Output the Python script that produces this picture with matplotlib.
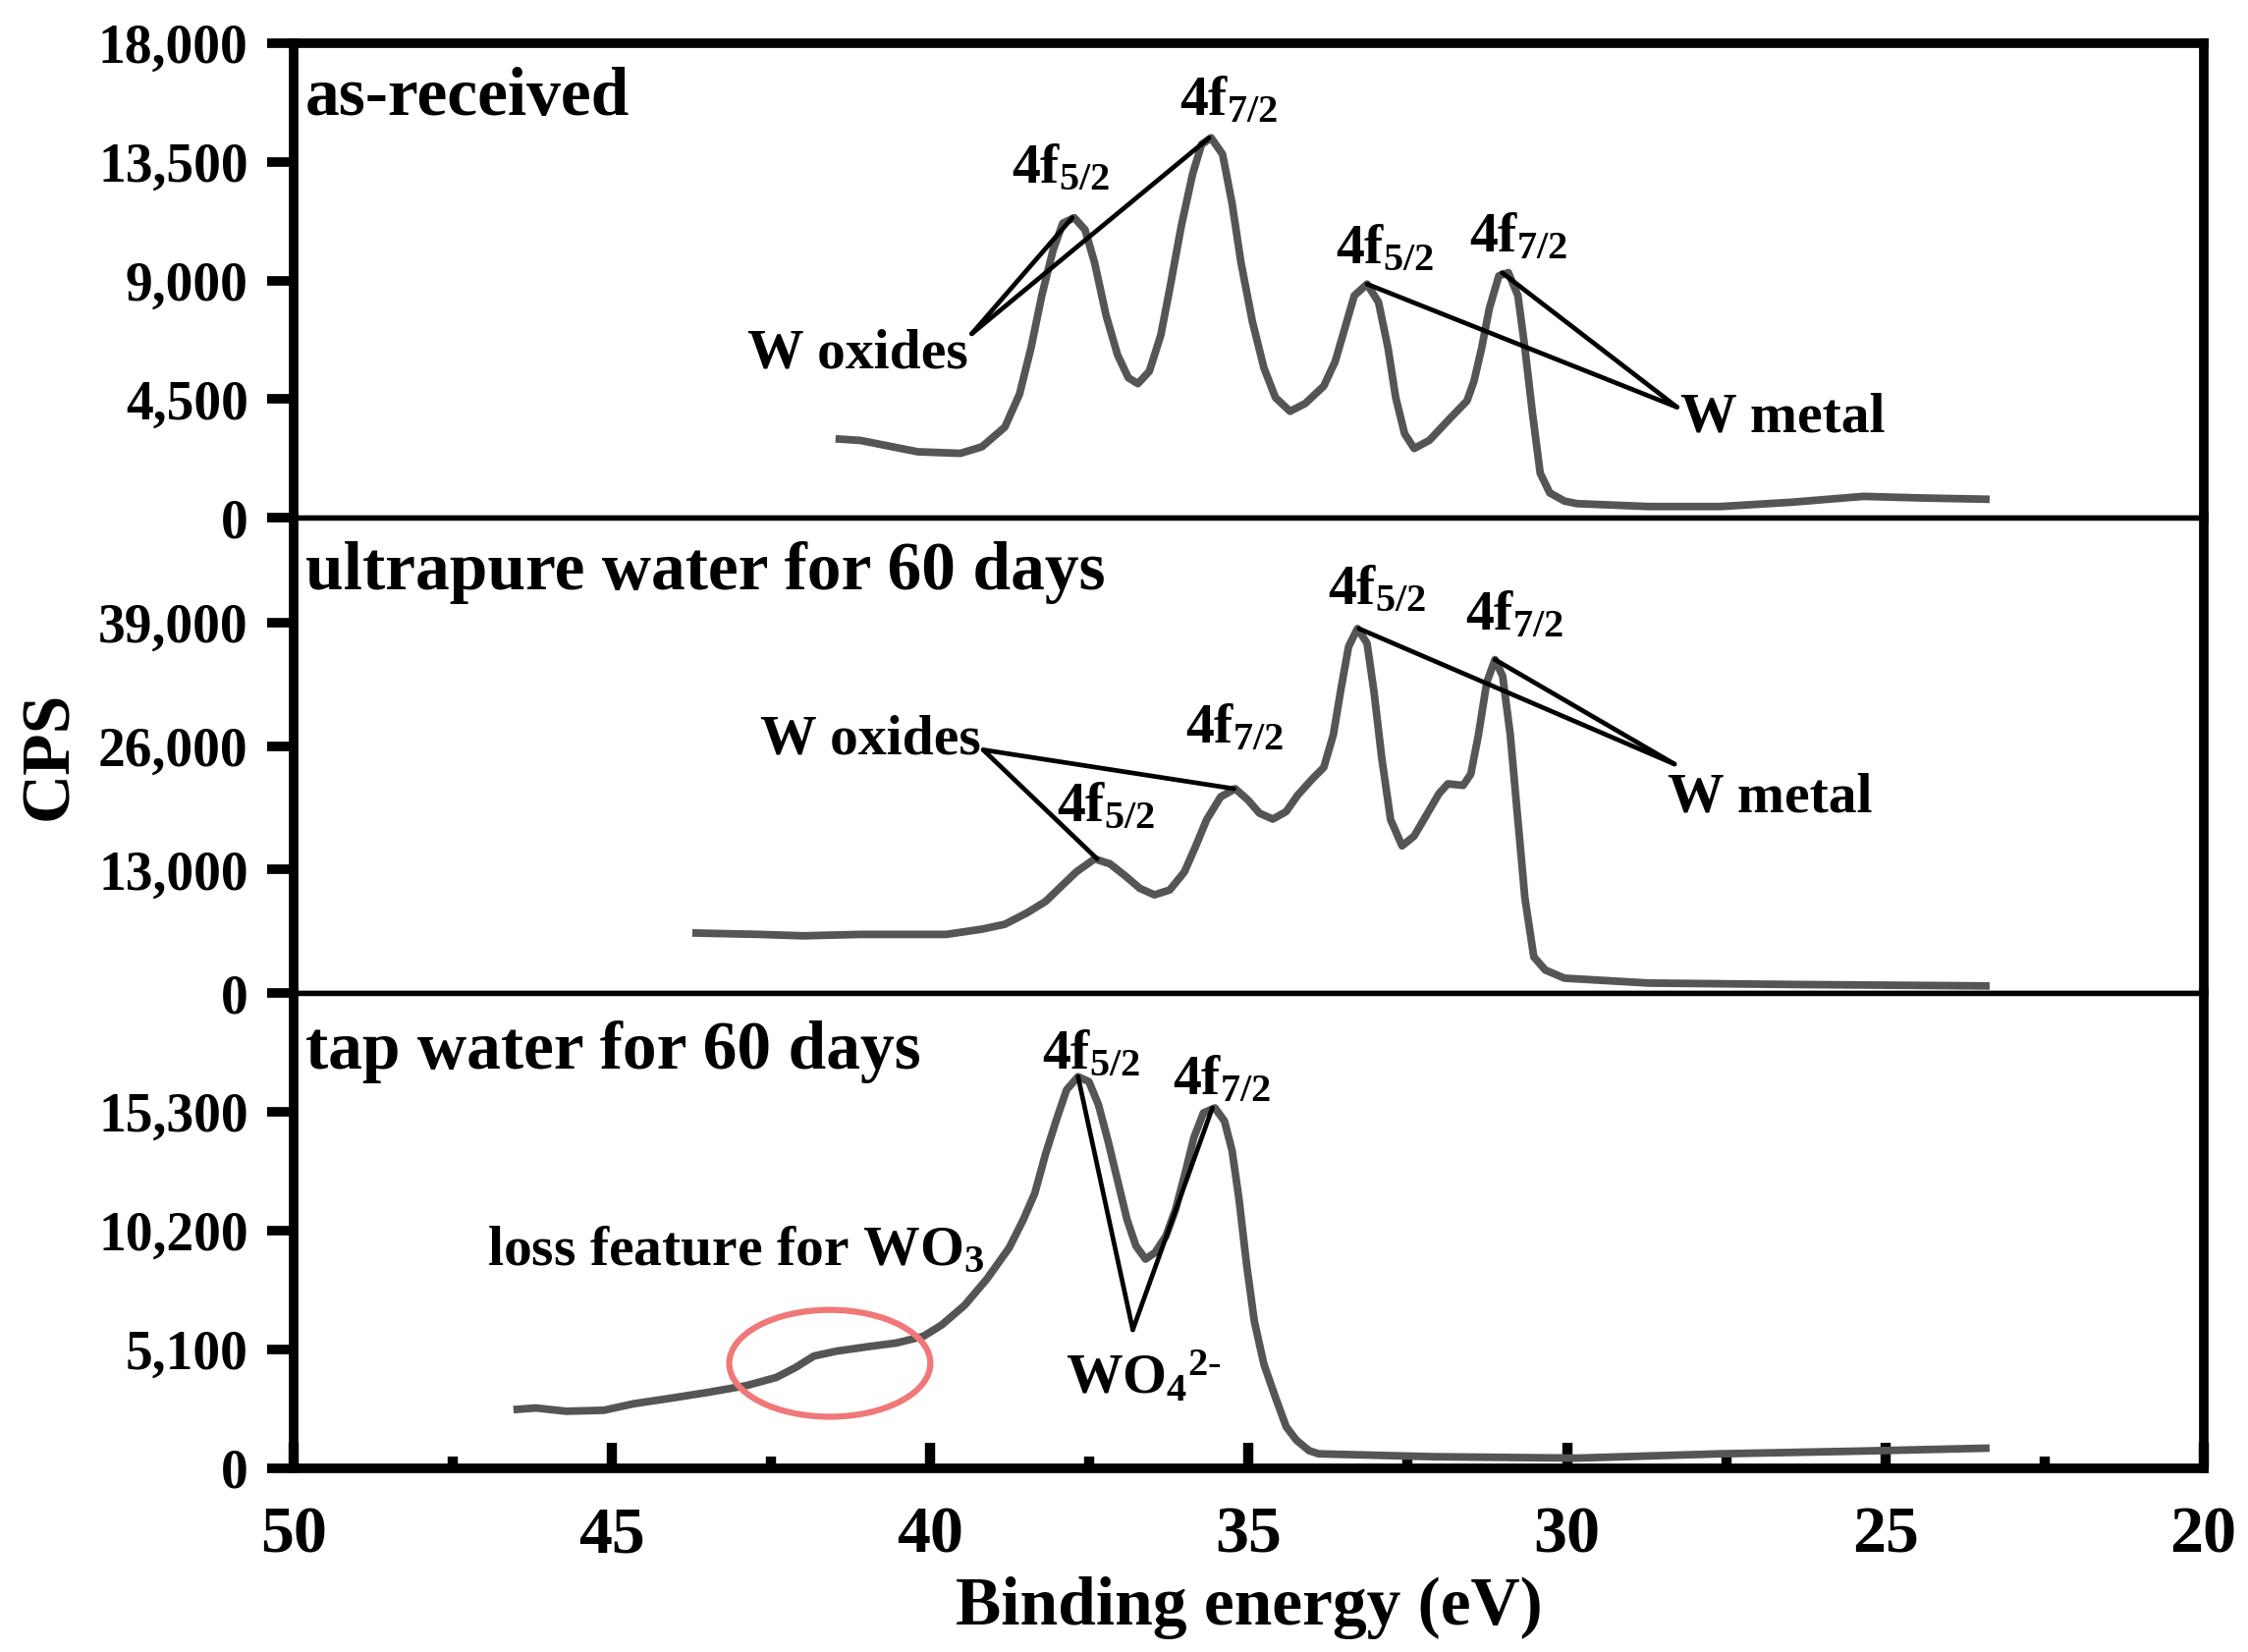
import matplotlib
matplotlib.use("Agg")
import matplotlib.pyplot as plt
from matplotlib.patches import Ellipse
from matplotlib.ticker import FuncFormatter, MultipleLocator, FixedLocator

plt.rcParams['font.family'] = ['Liberation Serif', 'DejaVu Serif']
plt.rcParams['font.weight'] = 'bold'
plt.rcParams['mathtext.fontset'] = 'custom'
plt.rcParams['mathtext.rm'] = 'Liberation Serif:bold'
plt.rcParams['mathtext.it'] = 'Liberation Serif:bold'
plt.rcParams['mathtext.bf'] = 'Liberation Serif:bold'
plt.rcParams['mathtext.default'] = 'regular'

# ---------------- data ----------------
panel_titles = ["as-received", "ultrapure water for 60 days", "tap water for 60 days"]

be_asrec = [41.49, 41.10, 40.65, 40.20, 39.53, 39.19, 38.83, 38.60, 38.42, 38.25, 38.07, 37.92,
            37.74, 37.57, 37.42, 37.24, 37.06, 36.89, 36.74, 36.56, 36.38, 36.24, 36.06, 35.88,
            35.74, 35.59, 35.41, 35.26, 35.12, 34.94, 34.76, 34.58, 34.35, 34.11, 33.82, 33.64,
            33.49, 33.34, 33.14, 32.96, 32.81, 32.69, 32.55, 32.40, 32.16, 31.87, 31.57, 31.46,
            31.34, 31.22, 31.07, 30.92, 30.77, 30.66, 30.54, 30.42, 30.27, 30.04, 29.84, 28.72,
            27.59, 26.46, 25.34, 24.44, 23.36]
cps_asrec = [3000, 2940, 2725, 2510, 2450, 2698, 3445, 4690, 6435, 8427, 10172, 11167,
             11380, 10920, 9672, 7680, 6185, 5314, 5090, 5561, 6932, 8677, 11043, 13035,
             14156, 14406, 13782, 11913, 9672, 7429, 5688, 4567, 4043, 4342, 5000, 5934,
             7182, 8427, 8864, 8176, 6435, 4567, 3195, 2635, 2945, 3692, 4440, 5187,
             6435, 7930, 9174, 9298, 8427, 6435, 3942, 1700, 953, 643, 545, 435,
             435, 600, 820, 760, 710]

be_ultra = [43.74, 42.68, 42.00, 41.10, 39.75, 39.19, 38.83, 38.48, 38.19, 37.95, 37.71, 37.42,
            37.18, 36.95, 36.71, 36.48, 36.24, 36.01, 35.83, 35.66, 35.44, 35.21, 35.01, 34.83,
            34.62, 34.41, 34.23, 34.00, 33.82, 33.67, 33.55, 33.43, 33.29, 33.14, 33.03, 32.91,
            32.77, 32.59, 32.40, 32.19, 32.01, 31.87, 31.63, 31.51, 31.39, 31.26, 31.13, 31.01,
            30.89, 30.78, 30.66, 30.52, 30.34, 30.04, 28.72, 26.46, 23.36]
cps_ultra = [6325, 6175, 6025, 6175, 6175, 6726, 7242, 8449, 9646, 11193, 12741, 14123,
             13607, 12400, 11028, 10337, 10853, 12741, 15495, 18249, 20653, 21509, 20312, 18930,
             18311, 19105, 20828, 22540, 23747, 27183, 32000, 36467, 38365, 36818, 31660, 24780,
             18249, 15495, 16527, 18930, 20993, 22025, 21860, 23056, 27183, 32690, 35095, 33372,
             27183, 18930, 9996, 3807, 2424, 1568, 1055, 905, 750]

be_tap = [46.55, 46.20, 45.72, 45.13, 44.66, 44.07, 43.48, 42.89, 42.42, 42.12, 41.83, 41.47,
          41.00, 40.53, 40.11, 39.82, 39.46, 39.11, 38.76, 38.54, 38.36, 38.19, 38.01, 37.86,
          37.68, 37.51, 37.36, 37.21, 37.06, 36.91, 36.77, 36.62, 36.47, 36.30, 36.15, 36.00,
          35.86, 35.71, 35.53, 35.38, 35.26, 35.15, 35.03, 34.91, 34.76, 34.58, 34.41, 34.25,
          34.05, 33.90, 32.09, 29.84, 27.59, 25.34, 23.36]
cps_tap = [2511, 2583, 2443, 2485, 2765, 3006, 3260, 3544, 3895, 4319, 4814, 5026,
           5208, 5377, 5661, 6152, 6999, 8129, 9470, 10670, 11800, 13494, 15044, 16246,
           16809, 16597, 15611, 14057, 12363, 10670, 9539, 8976, 9260, 9963, 11093, 12647,
           14197, 15255, 15467, 14904, 13633, 11516, 8693, 6296, 4458, 3048, 1778, 1200,
           750, 615, 490, 430, 615, 735, 860]

y_ticks = [[0, 4500, 9000, 13500, 18000],
           [0, 13000, 26000, 39000],
           [0, 5100, 10200, 15300]]
y_limits = [(0, 18000), (0, 50000), (0, 20400)]
x_ticks = [50, 45, 40, 35, 30, 25, 20]

# ---------------- figure ----------------
W, H, DPI = 2289, 1682, 100
fig, axes = plt.subplots(3, 1, figsize=(W / DPI, H / DPI), dpi=DPI, sharex=True)
fig.subplots_adjust(left=0.1307, right=0.9802, bottom=0.1113, top=0.974, hspace=0)

line_col = '#555555'
lw_curve = 5.6
lw_ann = 3.4
lw_outer = 7.0
lw_inner = 3.9
fs_tick = 40
fs_xtick = 49
fs_title = 50
fs_ann = 41.5

series = [(be_asrec, cps_asrec), (be_ultra, cps_ultra), (be_tap, cps_tap)]
fmt = FuncFormatter(lambda v, p: f"{int(round(v)):,}")

for i, ax in enumerate(axes):
    x, y = series[i]
    ax.plot(x, y, color=line_col, lw=lw_curve, solid_joinstyle='round', solid_capstyle='butt', zorder=3)
    ax.set_ylim(*y_limits[i])
    ax.yaxis.set_major_locator(FixedLocator(y_ticks[i]))
    ax.yaxis.set_major_formatter(fmt)
    ax.spines['left'].set_linewidth(lw_outer)
    ax.spines['right'].set_linewidth(lw_outer)
    ax.spines['top'].set_linewidth(lw_outer if i == 0 else lw_inner)
    ax.spines['bottom'].set_linewidth(lw_outer if i == 2 else lw_inner)
    ax.tick_params(axis='y', which='major', direction='out', length=19.5, width=7,
                   labelsize=fs_tick, pad=14)
    ax.tick_params(axis='x', which='both', top=False)
    if i < 2:
        ax.tick_params(axis='x', which='both', bottom=False, labelbottom=False)
    ax.text(49.82, [15260, 42470, 17150][i], panel_titles[i], fontsize=fs_title,
            fontweight='bold', ha='left', va='baseline', zorder=5)

ax = axes[2]
ax.set_xlim(50, 20)
ax.xaxis.set_major_locator(FixedLocator(x_ticks))
ax.xaxis.set_minor_locator(MultipleLocator(2.5))
ax.tick_params(axis='x', which='major', direction='in', length=19, width=7.5,
               labelsize=fs_xtick, pad=28)
ax.tick_params(axis='x', which='minor', direction='in', length=9, width=7.5)

fig.text(0.0225, 0.5 * (0.974 + 0.1113), "CPS", rotation=90, fontsize=fs_title,
         fontweight='bold', ha='center', va='center')
fig.text(0.5 * (0.1307 + 0.9802), 0.027, "Binding energy (eV)", fontsize=fs_title,
         fontweight='bold', ha='center', va='center')

def lbl(a, x, y, s, ha='left'):
    a.text(x, y, s, fontsize=fs_ann, fontweight='bold', ha=ha, va='baseline', zorder=5)

def leader(a, p0, p1):
    a.plot([p0[0], p1[0]], [p0[1], p1[1]], color='black', lw=lw_ann, zorder=4,
           solid_capstyle='round')

# top panel
a = axes[0]
lbl(a, 39.41, 5700, "W oxides", ha='right')
leader(a, (39.35, 6980), (37.77, 11380))
leader(a, (39.35, 6980), (35.62, 14406))
lbl(a, 38.72, 12700, "4f$_{5/2}$")
lbl(a, 36.08, 15260, "4f$_{7/2}$")
lbl(a, 33.63, 9650, "4f$_{5/2}$")
lbl(a, 31.53, 10080, "4f$_{7/2}$")
lbl(a, 28.22, 3270, "W metal")
leader(a, (28.27, 4200), (33.14, 8864))
leader(a, (28.27, 4200), (31.02, 9298))

# middle panel
a = axes[1]
lbl(a, 39.21, 25150, "W oxides", ha='right')
leader(a, (39.17, 25600), (37.38, 14123))
leader(a, (39.17, 25600), (35.23, 21509))
lbl(a, 38.02, 18070, "4f$_{5/2}$")
lbl(a, 35.99, 26355, "4f$_{7/2}$")
lbl(a, 33.76, 40960, "4f$_{5/2}$")
lbl(a, 31.60, 38250, "4f$_{7/2}$")
lbl(a, 28.42, 19125, "W metal")
leader(a, (28.31, 24100), (33.27, 38365))
leader(a, (28.31, 24100), (31.13, 35095))

# bottom panel
a = axes[2]
lbl(a, 38.24, 17150, "4f$_{5/2}$")
lbl(a, 36.19, 16050, "4f$_{7/2}$")
lbl(a, 46.96, 8700, "loss feature for WO$_3$")
lbl(a, 37.88, 3185, r"WO$_4$$^{2\text{-}}$")
leader(a, (36.82, 5940), (37.68, 16809))
leader(a, (36.82, 5940), (35.57, 15467))
a.add_patch(Ellipse((41.58, 4501), 3.16, 4587, fill=False, edgecolor='#F07878', lw=4.5, zorder=6))

fig.savefig("out.png", dpi=DPI)
